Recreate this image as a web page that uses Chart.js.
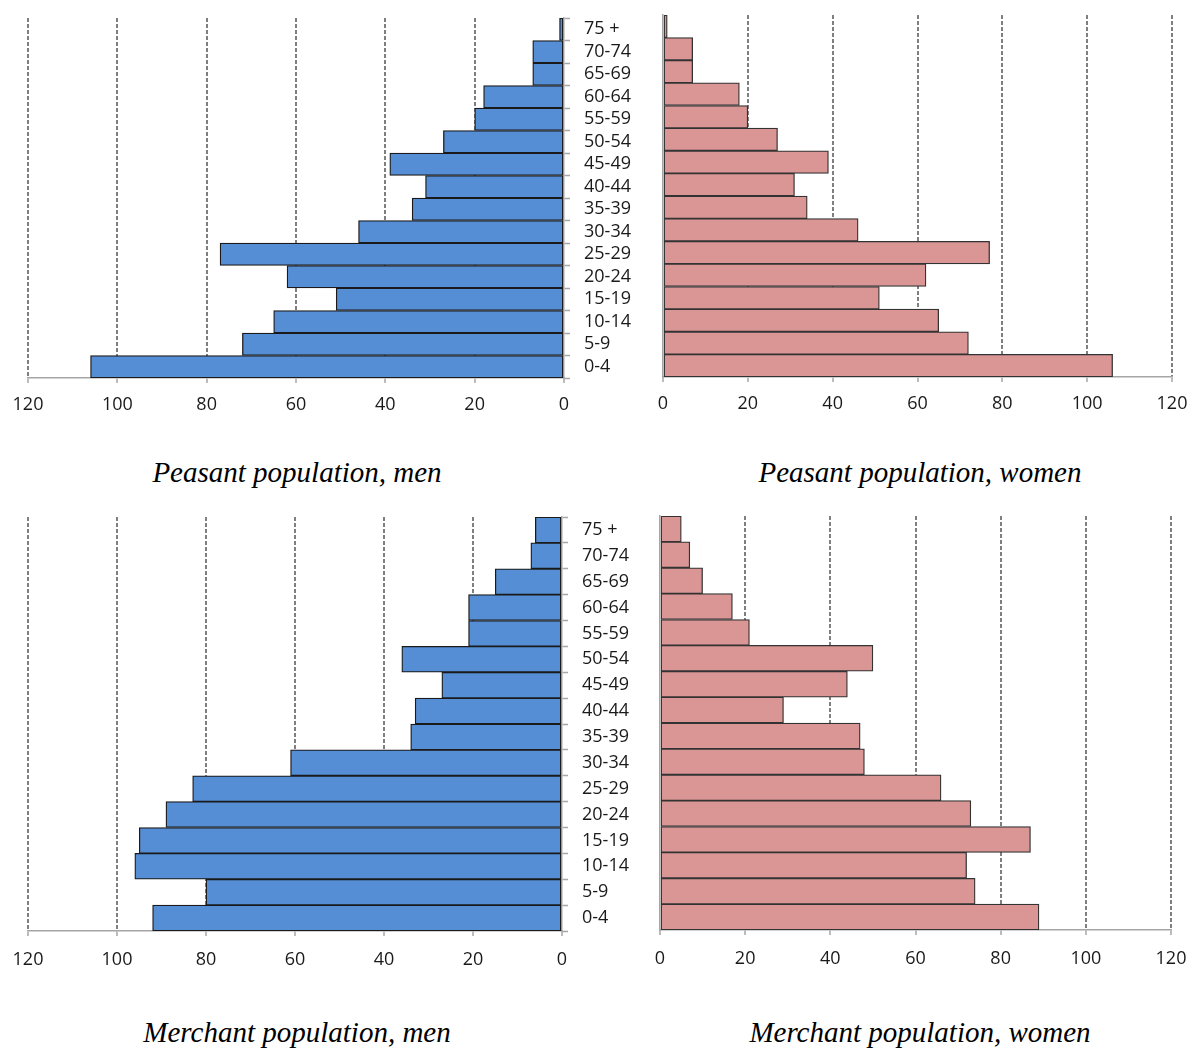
<!DOCTYPE html>
<html>
<head>
<meta charset="utf-8">
<script src="https://cdn.jsdelivr.net/npm/chart.js@4/dist/chart.umd.min.js"></script>
<style>
  html, body { margin: 0; padding: 0; background: #fff; }
  body { width: 1191px; height: 1048px; position: relative; overflow: hidden; }
  canvas { position: absolute; }
  .title { position: absolute; font-family: "Liberation Serif", "Times New Roman", serif; font-style: italic;
           font-size: 29px; color: #000; text-align: center; width: 600px; white-space: nowrap; }
</style>
</head>
<body>
<canvas id="pm" width="660" height="430" style="left:0px;top:0px;"></canvas>
<canvas id="pw" width="551" height="430" style="left:640px;top:0px;"></canvas>
<canvas id="mm" width="660" height="490" style="left:0px;top:490px;"></canvas>
<canvas id="mw" width="551" height="490" style="left:640px;top:490px;"></canvas>
<div class="title" id="t1" style="left:-3px;top:456px;">Peasant population, men</div>
<div class="title" id="t2" style="left:620px;top:456px;">Peasant population, women</div>
<div class="title" id="t3" style="left:-3px;top:1016px;">Merchant population, men</div>
<div class="title" id="t4" style="left:620px;top:1016px;">Merchant population, women</div>
<script>
// Age groups, youngest first
const ageGroups = ["0-4", "5-9", "10-14", "15-19", "20-24", "25-29", "30-34", "35-39",
                   "40-44", "45-49", "50-54", "55-59", "60-64", "65-69", "70-74", "75 +"];
const peasantMen    = [106, 72, 65, 51, 62, 77, 46, 34, 31, 39, 27, 20, 18, 7, 7, 1];
const peasantWomen  = [106, 72, 65, 51, 62, 77, 46, 34, 31, 39, 27, 20, 18, 7, 7, 1];
const merchantMen   = [92, 80, 96, 95, 89, 83, 61, 34, 33, 27, 36, 21, 21, 15, 7, 6];
const merchantWomen = [89, 74, 72, 87, 73, 66, 48, 47, 29, 44, 50, 21, 17, 10, 7, 5];
const xTicks = [0, 20, 40, 60, 80, 100, 120];

const FONT = { family: "'Open Sans', 'DejaVu Sans', sans-serif", size: 18 };
const MEN_COLOR = '#558ED5';
const WOMEN_COLOR = '#D99694';
const GRID_COLOR = '#7f7f7f';
const AXIS_COLOR = '#a6a6a6';

function makeChart(id, data, color, isLeft, pad, yWidth, xHeight, xPad) {
  const ctx = document.getElementById(id).getContext('2d');
  return new Chart(ctx, {
    type: 'bar',
    data: {
      labels: ageGroups,
      datasets: [{
        data: data,
        backgroundColor: color,
        borderColor: isLeft ? '#1a1a1a' : '#333333',
        borderWidth: 1.3,
        borderSkipped: false,
        barPercentage: 1.0,
        categoryPercentage: 1.0
      }]
    },
    options: {
      indexAxis: 'y',
      responsive: false,
      devicePixelRatio: 1,
      animation: false,
      layout: { padding: pad },
      plugins: { legend: { display: false }, tooltip: { enabled: false } },
      scales: {
        x: {
          type: 'linear',
          min: 0, max: 120,
          reverse: isLeft,
          afterBuildTicks: (s) => { s.ticks = xTicks.map(v => ({ value: v })); },
          afterFit: (s) => { s.height = xHeight; s.paddingLeft = 0; s.paddingRight = 0; },
          ticks: { font: FONT, color: '#1a1a1a', padding: xPad, maxRotation: 0 },
          grid: {
            color: (c) => (c.tick && c.tick.value === 0) ? 'rgba(0,0,0,0)' : GRID_COLOR,
            lineWidth: 2,
            drawTicks: true,
            tickLength: 5,
            tickColor: AXIS_COLOR,
            tickWidth: 1.5
          },
          border: { display: true, color: AXIS_COLOR, width: 1.5, dash: [4, 2] }
        },
        y: {
          type: 'category',
          reverse: true,
          position: isLeft ? 'right' : 'left',
          afterFit: (s) => { s.width = yWidth; s.paddingTop = 0; s.paddingBottom = 0; },
          ticks: { display: isLeft, font: FONT, color: '#1a1a1a', padding: 14, autoSkip: false },
          grid: {
            drawOnChartArea: false,
            drawTicks: isLeft,
            tickLength: 6,
            tickColor: AXIS_COLOR,
            tickWidth: 1.5,
            offset: true
          },
          border: { display: true, color: AXIS_COLOR, width: 1.5 }
        }
      }
    }
  });
}

makeChart('pm', peasantMen, MEN_COLOR, true, { left: 28, top: 18, right: 0, bottom: 0 }, 96, 52, 11);
makeChart('pw', peasantWomen, WOMEN_COLOR, false, { left: 23, top: 15, right: 19, bottom: 0 }, 0, 53, 11);
makeChart('mm', merchantMen, MEN_COLOR, true, { left: 28, top: 27, right: 0, bottom: 0 }, 98, 49, 13);
makeChart('mw', merchantWomen, WOMEN_COLOR, false, { left: 20, top: 26, right: 20, bottom: 0 }, 0, 50, 13);
</script>
</body>
</html>
